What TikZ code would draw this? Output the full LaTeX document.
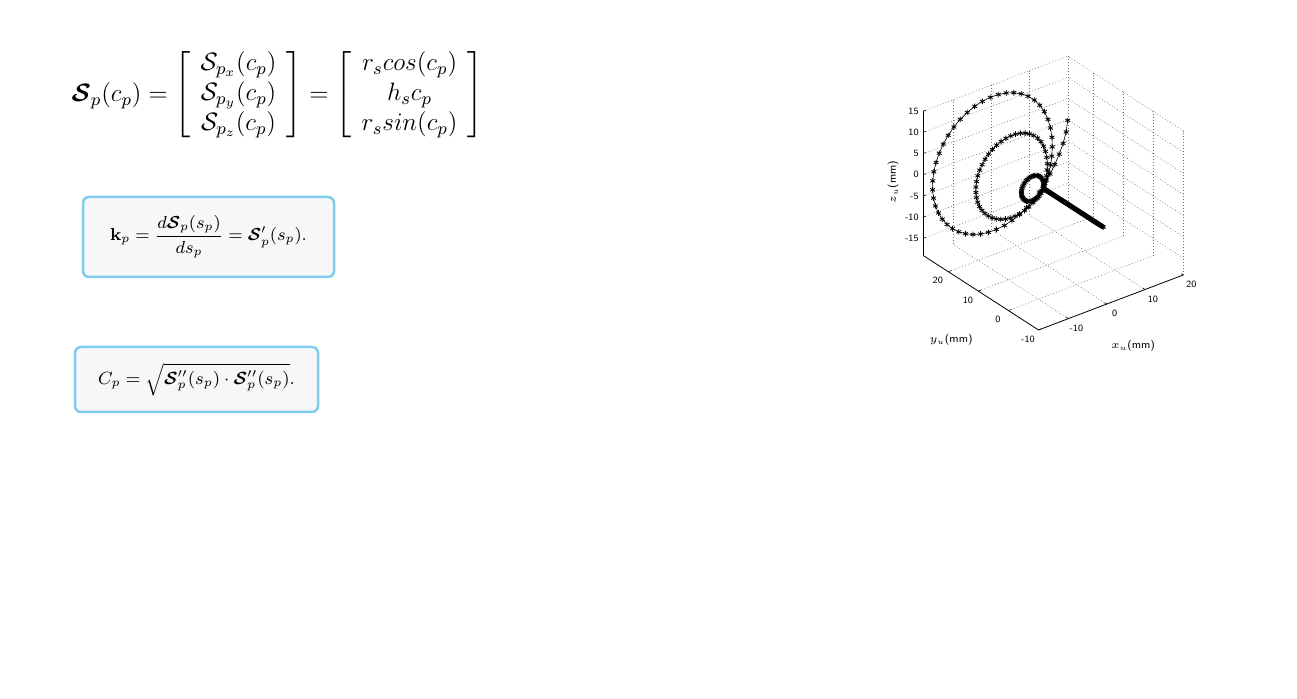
\RequirePackage{fix-cm}
\documentclass[tikz,border=0pt]{standalone}
\usepackage{amsmath,bm}
\usetikzlibrary{plotmarks}
\definecolor{boxblue}{RGB}{128,204,236}
\definecolor{boxfill}{RGB}{247,247,247}
\tikzset{
  eqbox/.style={draw=boxblue, fill=boxfill, line width=1.25pt, rounded corners=3pt, inner sep=0pt},
  grid3d/.style={line width=0.3pt, black!55, dash pattern=on 0.4pt off 1.1pt},
  axisline/.style={line width=0.4pt, black},
  tickmark/.style={line width=0.3pt, black},
  ticklab/.style={font=\fontsize{4.8}{5}\selectfont\sffamily, inner sep=0pt},
  axlab/.style={font=\fontsize{5.5}{6}\selectfont\sffamily, inner sep=0pt},
  curve/.style={line width=0.3pt, black, mark=asterisk, mark size=1.4pt, mark options={line width=0.4pt}},
  declare function={
    hsig(\u)=1/(1+exp(-max(-9,min(9,\u))));
    hrad(\u)=2.9+6.8*hsig((\u-1.05)/0.05)+6.2*hsig((\u-2.05)/0.05)+5.7*hsig((\u-3.05)/0.04);
    hy(\u)=12+6.5*hsig((\u-1.05)/0.05)+6.5*hsig((\u-2.05)/0.05);
    hang(\u)=-18+360*\u;
  }
}
\begin{document}
\begin{tikzpicture}[x=0.5pt,y=-0.5pt]
\useasboundingbox (0,0) rectangle (1297,699);
\fill[white] (0,0) rectangle (1297,699);

% top equation
\node[inner sep=0pt, font=\fontsize{12.6}{15}\selectfont] (eqtop) at (277.5,95)
  {$\bm{\mathcal{S}}_p(c_p) = \left[\begin{array}{c} \mathcal{S}_{p_x}(c_p)\\ \mathcal{S}_{p_y}(c_p)\\ \mathcal{S}_{p_z}(c_p)\end{array}\right] = \left[\begin{array}{c} r_s cos(c_p)\\ h_s c_p\\ r_s sin(c_p)\end{array}\right]$};

% boxed equations
\node[eqbox, minimum width=125.5pt, minimum height=40pt] (box1) at (208.5,237) {};
\node[inner sep=0pt, font=\fontsize{8.7}{10}\selectfont] (eq1) at (box1.center)
  {$\displaystyle \mathbf{k}_p = \frac{d\bm{\mathcal{S}}_p(s_p)}{ds_p} = \bm{\mathcal{S}}'_p(s_p).$};
\node[eqbox, minimum width=121.5pt, minimum height=32.5pt] (box2) at (196.5,379.5) {};
\node[inner sep=0pt, font=\fontsize{8.85}{11}\selectfont] (eq2) at (box2.center)
  {$C_p = \sqrt{\bm{\mathcal{S}}''_p(s_p)\cdot\bm{\mathcal{S}}''_p(s_p)}.$};

% 3D plot
\def\xmin{-17.8}\def\xmax{20}
\def\ymin{-10}\def\ymax{28.4}
\def\zmin{-19}\def\zmax{15}
\begin{scope}[shift={(1076.6,204.1)}, x={(1.915pt,0.7275pt)}, y={(-1.5035pt,0.9715pt)}, z={(0pt,2.12pt)}]
  % back wall y = ymax
  \foreach \xx in {-10,0,10,20} \draw[grid3d] (\xx,\ymax,\zmin) -- (\xx,\ymax,\zmax);
  \foreach \zz in {-15,-10,...,15} \draw[grid3d] (\xmin,\ymax,\zz) -- (\xmax,\ymax,\zz);
  % back wall x = xmax
  \foreach \yy in {-10,0,10,20} \draw[grid3d] (\xmax,\yy,\zmin) -- (\xmax,\yy,\zmax);
  \foreach \zz in {-15,-10,...,15} \draw[grid3d] (\xmax,\ymin,\zz) -- (\xmax,\ymax,\zz);
  % floor
  \foreach \xx in {-10,0,10} \draw[grid3d] (\xx,\ymin,\zmin) -- (\xx,\ymax,\zmin);
  \foreach \yy in {0,10,20} \draw[grid3d] (\xmin,\yy,\zmin) -- (\xmax,\yy,\zmin);
  % axes
  \draw[axisline] (\xmin,\ymax,\zmin) -- (\xmin,\ymax,\zmax);
  \draw[axisline] (\xmin,\ymin,\zmin) -- (\xmin,\ymax,\zmin);
  \draw[axisline] (\xmin,\ymin,\zmin) -- (\xmax,\ymin,\zmin);
  % ticks and labels
  \foreach \zz in {-15,-10,...,15} {
    \draw[tickmark] (\xmin,\ymax,\zz) -- ++(0.7,0,0);
    \node[ticklab, anchor=east, xshift=-2pt] (zt\zz) at (\xmin,\ymax,\zz) {\zz};
  }
  \foreach \yy in {-10,0,10,20} {
    \draw[tickmark] (\xmin,\yy,\zmin) -- ++(0.7,0,0);
    \node[ticklab, xshift=-5.25pt, yshift=-4.5pt] (yt\yy) at (\xmin,\yy,\zmin) {\yy};
  }
  \foreach \xx in {-10,0,10,20} {
    \draw[tickmark] (\xx,\ymin,\zmin) -- ++(0,0.7,0);
    \node[ticklab, xshift=4pt, yshift=-4.75pt] (xt\xx) at (\xx,\ymin,\zmin) {\xx};
  }
  % data: straight approach along y, then a stepped conical spiral
  \draw[curve] plot[variable=\t, domain=-8:12, samples=80] ({0.668},{\t},{-1.992});
  \draw[curve] plot[variable=\t, domain=0:3.08, samples=149]
    ({-2.09+hrad(\t)*cos(hang(\t))}, {hy(\t)}, {-1.096+hrad(\t)*sin(hang(\t))});
\end{scope}
\node[axlab, rotate=90] (zlab) at (893,182) {$z_u$(mm)};
\node[axlab] (ylab) at (951,340) {$y_u$(mm)};
\node[axlab] (xlab) at (1133,346) {$x_u$(mm)};
\end{tikzpicture}
\end{document}
